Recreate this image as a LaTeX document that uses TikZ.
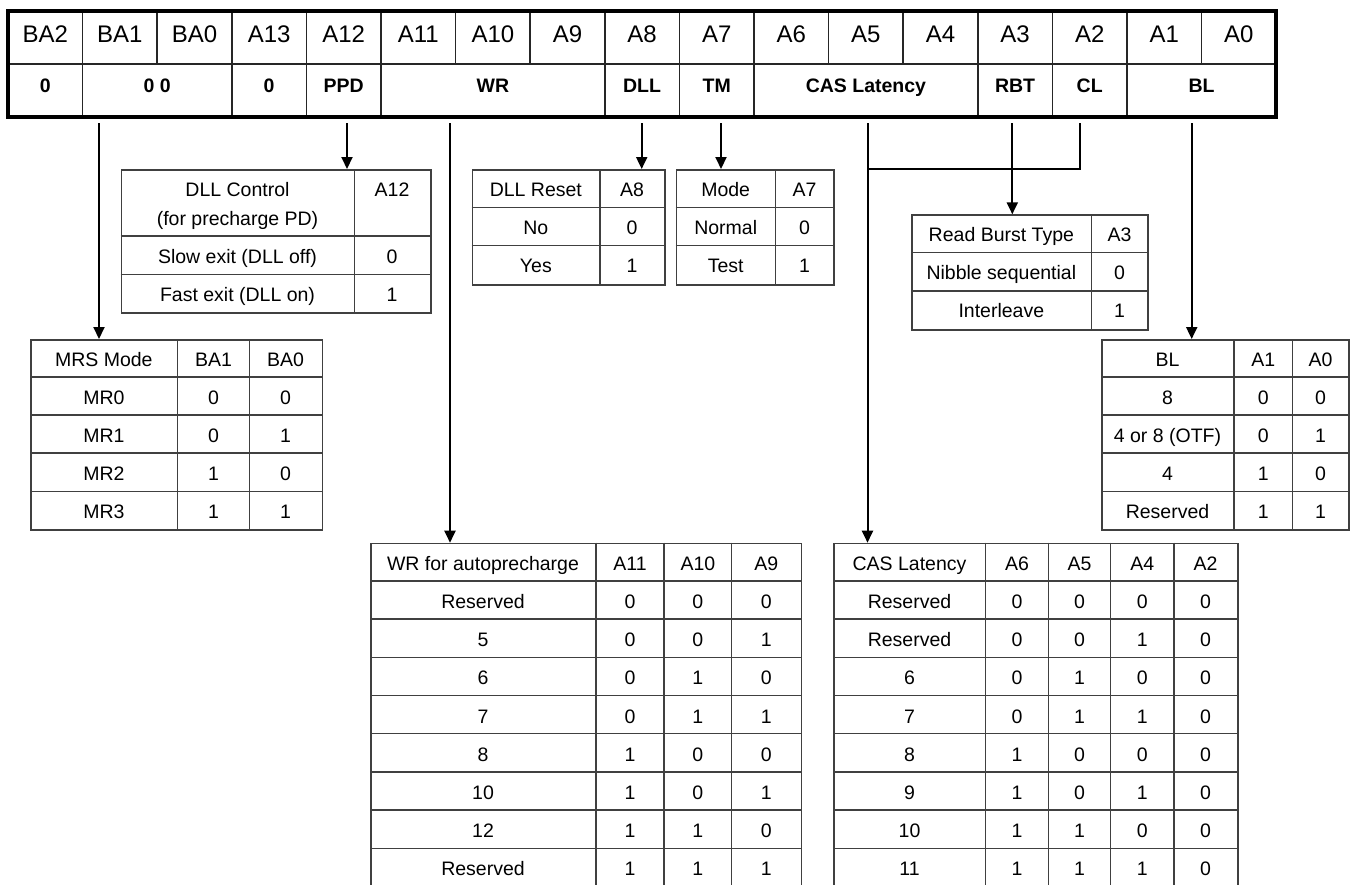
\documentclass[tikz,border=0pt]{standalone}
\usepackage{fontspec}
\setmainfont{Liberation Sans}
\usetikzlibrary{arrows.meta}
\tikzset{
 regframe/.style={draw=black, line width=4.5pt, inner sep=0pt, outer sep=0pt, anchor=north west},
 regline/.style={draw=black!85, line width=1.6pt},
 tframe/.style={draw=black!75, line width=1.5pt, inner sep=0pt, anchor=north west},
 tline/.style={draw=black!75, line width=1.5pt},
 txt/.style={anchor=base, inner sep=0pt, font=\fontsize{19.5}{23}\selectfont},
 regtxt/.style={anchor=base, inner sep=0pt, font=\fontsize{24}{28}\selectfont},
 regbold/.style={anchor=base, inner sep=0pt, font=\fontsize{19.5}{23}\selectfont\bfseries},
 arr/.style={draw=black, line width=2pt, -{Triangle[width=11pt,length=12pt]}},
 conn/.style={draw=black, line width=2pt},
}
\begin{document}
\begin{tikzpicture}[x=1pt,y=-1pt]
\useasboundingbox (0,0) rectangle (1359,884);

% ---------------- register ----------------
\foreach \k in {1,...,16} \draw[regline] (8+74.6*\k,11) -- (8+74.6*\k,64);
\draw[regline] (8,64) -- (1276,64);
\foreach \k in {1,3,4,5,8,9,10,13,14,15} \draw[regline] (8+74.6*\k,64) -- (8+74.6*\k,117);
\node[regframe, minimum width=1268pt, minimum height=106pt] (reg) at (8,11) {};
\foreach \t [count=\k from 0] in {BA2,BA1,BA0,A13,A12,A11,A10,A9,A8,A7,A6,A5,A4,A3,A2,A1,A0}
  \node[regtxt] (h\k) at (8+74.6*\k+37.3,42) {\t};
\foreach \a/\b/\t [count=\i] in {0/1/0,1/3/0 0,3/4/0,4/5/PPD,5/8/WR,8/9/DLL,9/10/TM,10/13/CAS Latency,13/14/RBT,14/15/CL,15/17/BL}
  \node[regbold] (f\i) at (8+37.3*\a+37.3*\b,92) {\t};

% ---------------- DLL Control ----------------
\node[tframe, minimum width=309.3pt, minimum height=143.3pt] (tDLLC) at (120.7,169) {};
\draw[tline] (354.3,169) -- (354.3,312.3);
\draw[tline] (120.7,236) -- (430,236);
\draw[tline] (120.7,274.3) -- (430,274.3);
\node[txt] (dc1) at (237.5,196.7) {DLL Control};
\node[txt] (dc2) at (237.5,225) {(for precharge PD)};
\node[txt] (dc3) at (392,196.7) {A12};
\node[txt] (dc4) at (237.5,263) {Slow exit (DLL off)};
\node[txt] (dc5) at (392,263) {0};
\node[txt] (dc6) at (237.5,301.3) {Fast exit (DLL on)};
\node[txt] (dc7) at (392,301.3) {1};

% ---------------- MRS Mode ----------------
\node[tframe, minimum width=291.7pt, minimum height=190.3pt] (tMRS) at (30,339) {};
\draw[tline] (177.7,339) -- (177.7,529.3);
\draw[tline] (249.3,339) -- (249.3,529.3);
\foreach \i in {1,...,4} \draw[tline] (30,339+\i*38.06) -- (321.7,339+\i*38.06);
\foreach \a/\b/\c [count=\i from 0] in {MRS Mode/BA1/BA0,MR0/0/0,MR1/0/1,MR2/1/0,MR3/1/1}{
  \node[txt] (m\i a) at (103.85,366+\i*38.06) {\a};
  \node[txt] (m\i b) at (213.5,366+\i*38.06) {\b};
  \node[txt] (m\i c) at (285.5,366+\i*38.06) {\c};
}

% ---------------- DLL Reset ----------------
\node[tframe, minimum width=192.3pt, minimum height=115pt] (tDLLR) at (471.7,169) {};
\draw[tline] (600,169) -- (600,284);
\foreach \i in {1,2} \draw[tline] (471.7,169+\i*38.33) -- (664,169+\i*38.33);
\foreach \a/\b [count=\i from 0] in {DLL Reset/A8,No/0,Yes/1}{
  \node[txt] (r\i a) at (535.85,196+\i*38.33) {\a};
  \node[txt] (r\i b) at (632,196+\i*38.33) {\b};
}

% ---------------- Mode ----------------
\node[tframe, minimum width=157.6pt, minimum height=115pt] (tMode) at (675.7,169) {};
\draw[tline] (775.7,169) -- (775.7,284);
\foreach \i in {1,2} \draw[tline] (675.7,169+\i*38.33) -- (833.3,169+\i*38.33);
\foreach \a/\b [count=\i from 0] in {Mode/A7,Normal/0,Test/1}{
  \node[txt] (o\i a) at (725.7,196+\i*38.33) {\a};
  \node[txt] (o\i b) at (804.5,196+\i*38.33) {\b};
}

% ---------------- Read Burst Type ----------------
\node[tframe, minimum width=236.3pt, minimum height=115pt] (tRBT) at (911,214.3) {};
\draw[tline] (1091.7,214.3) -- (1091.7,329.3);
\foreach \i in {1,2} \draw[tline] (911,214.3+\i*38.33) -- (1147.3,214.3+\i*38.33);
\foreach \a/\b [count=\i from 0] in {Read Burst Type/A3,Nibble sequential/0,Interleave/1}{
  \node[txt] (b\i a) at (1001.35,241.3+\i*38.33) {\a};
  \node[txt] (b\i b) at (1119.5,241.3+\i*38.33) {\b};
}

% ---------------- BL ----------------
\node[tframe, minimum width=247.3pt, minimum height=190.3pt] (tBL) at (1101,339) {};
\draw[tline] (1234,339) -- (1234,529.3);
\draw[tline] (1292.7,339) -- (1292.7,529.3);
\foreach \i in {1,...,4} \draw[tline] (1101,339+\i*38.06) -- (1348.3,339+\i*38.06);
\foreach \a/\b/\c [count=\i from 0] in {BL/A1/A0,8/0/0,4 or 8 (OTF)/0/1,4/1/0,Reserved/1/1}{
  \node[txt] (l\i a) at (1167.5,366+\i*38.06) {\a};
  \node[txt] (l\i b) at (1263.35,366+\i*38.06) {\b};
  \node[txt] (l\i c) at (1320.5,366+\i*38.06) {\c};
}

% ---------------- WR for autoprecharge ----------------
\node[tframe, minimum width=430.7pt, minimum height=343.8pt] (tWR) at (370,542.7) {};
\foreach \x in {596,664,731.7} \draw[tline] (\x,542.7) -- (\x,886.5);
\foreach \i in {1,...,8} \draw[tline] (370,542.7+\i*38.2) -- (800.7,542.7+\i*38.2);
\foreach \a/\b/\c/\d [count=\i from 0] in {WR for autoprecharge/A11/A10/A9,Reserved/0/0/0,5/0/0/1,6/0/1/0,7/0/1/1,8/1/0/0,10/1/0/1,12/1/1/0,Reserved/1/1/1}{
  \node[txt] (w\i a) at (483,570.2+\i*38.2) {\a};
  \node[txt] (w\i b) at (630,570.2+\i*38.2) {\b};
  \node[txt] (w\i c) at (697.85,570.2+\i*38.2) {\c};
  \node[txt] (w\i d) at (766.2,570.2+\i*38.2) {\d};
}

% ---------------- CAS Latency ----------------
\node[tframe, minimum width=404pt, minimum height=343.8pt] (tCAS) at (833.3,542.7) {};
\foreach \x in {985.7,1048.3,1110.7,1174} \draw[tline] (\x,542.7) -- (\x,886.5);
\foreach \i in {1,...,8} \draw[tline] (833.3,542.7+\i*38.2) -- (1237.3,542.7+\i*38.2);
\foreach \a/\b/\c/\d/\e [count=\i from 0] in {CAS Latency/A6/A5/A4/A2,Reserved/0/0/0/0,Reserved/0/0/1/0,6/0/1/0/0,7/0/1/1/0,8/1/0/0/0,9/1/0/1/0,10/1/1/0/0,11/1/1/1/0}{
  \node[txt] (c\i a) at (909.5,570.2+\i*38.2) {\a};
  \node[txt] (c\i b) at (1017,570.2+\i*38.2) {\b};
  \node[txt] (c\i c) at (1079.5,570.2+\i*38.2) {\c};
  \node[txt] (c\i d) at (1142.35,570.2+\i*38.2) {\d};
  \node[txt] (c\i e) at (1205.65,570.2+\i*38.2) {\e};
}

% ---------------- connectors ----------------
\coordinate (sMRS) at (99,123);
\coordinate (sDLLC) at (347,123);
\coordinate (sWR) at (450,123);
\coordinate (sDLLR) at (641.7,123);
\coordinate (sMode) at (721,123);
\coordinate (sCAS) at (867.5,123);
\coordinate (sRBT) at (1012.3,123);
\coordinate (sCL) at (1080,123);
\coordinate (jCAS) at (867.5,169.3);
\coordinate (sBL) at (1191.7,123);
\draw[arr] (sMRS) -- (sMRS |- tMRS.north);
\draw[arr] (sDLLC) -- (sDLLC |- tDLLC.north);
\draw[arr] (sWR) -- (sWR |- tWR.north);
\draw[arr] (sDLLR) -- (sDLLR |- tDLLR.north);
\draw[arr] (sMode) -- (sMode |- tMode.north);
\draw[arr] (sCAS) -- (sCAS |- tCAS.north);
\draw[arr] (sRBT) -- (sRBT |- tRBT.north);
\draw[arr] (sBL) -- (sBL |- tBL.north);
\draw[conn] (sCL) |- (jCAS);
\end{tikzpicture}
\end{document}
